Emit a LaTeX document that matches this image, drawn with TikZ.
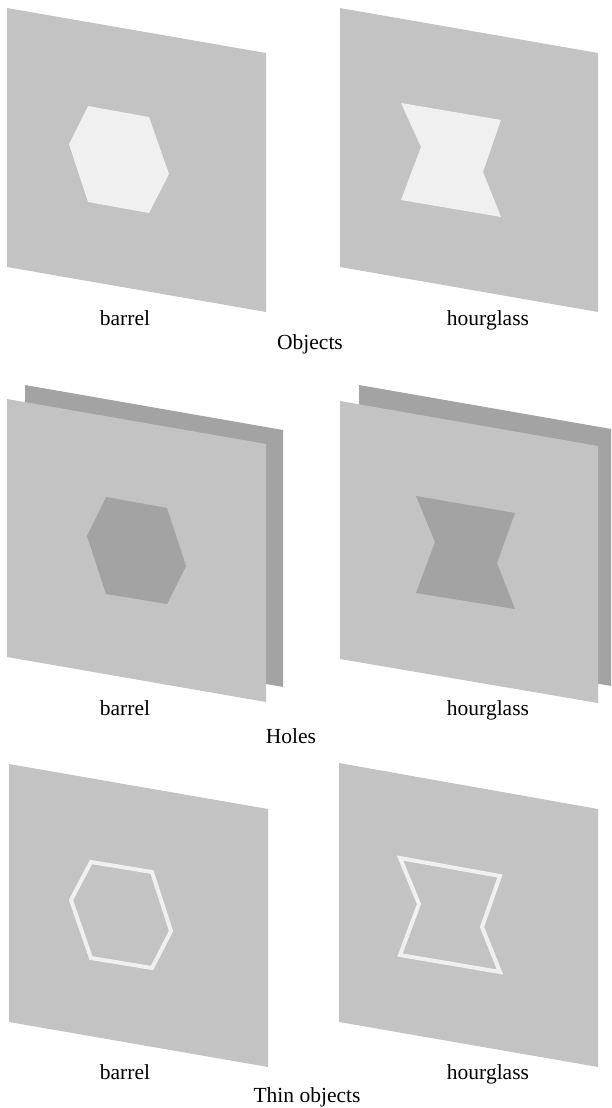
\documentclass[tikz,border=0pt]{standalone}
\usepackage{fontspec}
\setmainfont{Liberation Serif}
\definecolor{plategray}{RGB}{195,195,195}
\definecolor{backgray}{RGB}{163,163,163}
\definecolor{objwhite}{RGB}{240,240,240}

\begin{document}
\begin{tikzpicture}[x=1pt, y=-1pt,
  plate/.style={fill=plategray},
  backplate/.style={fill=backgray},
  solidobj/.style={fill=objwhite},
  holeobj/.style={fill=backgray},
  thinobj/.style={draw=objwhite, line width=4pt, line join=miter},
  caption/.style={anchor=base, inner sep=0pt, font=\fontsize{21.5}{25}\selectfont}]
  \useasboundingbox (0,0) rectangle (611,1108);
  \clip (0,0) rectangle (611,1108);

  % Objects
  \fill[plate] (7,8) -- (266,53) -- (266,312) -- (7,267) -- cycle;
  \fill[solidobj] (88,106) -- (149,117) -- (169,174) -- (149,213) -- (88,202) -- (69,144) -- cycle;
  \fill[plate] (340,8) -- (598,53) -- (598,312) -- (340,267) -- cycle;
  \fill[solidobj] (401,103) -- (501,120) -- (483,172) -- (501,217) -- (401,200) -- (421,147) -- cycle;
  \node[caption] (objBarrel) at (125,325) {barrel};
  \node[caption] (objHour) at (488,325) {hourglass};
  \node[caption] (objTitle) at (310,349) {Objects};

  % Holes
  \fill[backplate] (25,385) -- (283,430) -- (283,687) -- (25,642) -- cycle;
  \fill[plate] (7,399) -- (266,444) -- (266,702) -- (7,657) -- cycle;
  \fill[holeobj] (106,497) -- (167,508) -- (186,566) -- (167,604) -- (106,594) -- (87,536) -- cycle;
  \fill[backplate] (359,385) -- (617,430) -- (617,687) -- (359,642) -- cycle;
  \fill[plate] (340,401) -- (598,446) -- (598,703) -- (340,659) -- cycle;
  \fill[holeobj] (416,496) -- (515,513) -- (497,563) -- (515,609) -- (416,593) -- (435,542) -- cycle;
  \node[caption] (holeBarrel) at (125,715) {barrel};
  \node[caption] (holeHour) at (488,715) {hourglass};
  \node[caption] (holeTitle) at (291,743) {Holes};

  % Thin objects
  \fill[plate] (9,764) -- (268,809) -- (268,1067) -- (9,1022) -- cycle;
  \draw[thinobj] (91,862) -- (152,872) -- (171,931) -- (152,968) -- (91,958) -- (71,900) -- cycle;
  \fill[plate] (339,763) -- (598,809) -- (598,1067) -- (339,1022) -- cycle;
  \draw[thinobj] (400,858) -- (500,876) -- (482,927) -- (500,972) -- (400,955) -- (419,904) -- cycle;
  \node[caption] (thinBarrel) at (125,1079) {barrel};
  \node[caption] (thinHour) at (488,1079) {hourglass};
  \node[caption] (thinTitle) at (307,1102) {Thin objects};
\end{tikzpicture}
\end{document}
